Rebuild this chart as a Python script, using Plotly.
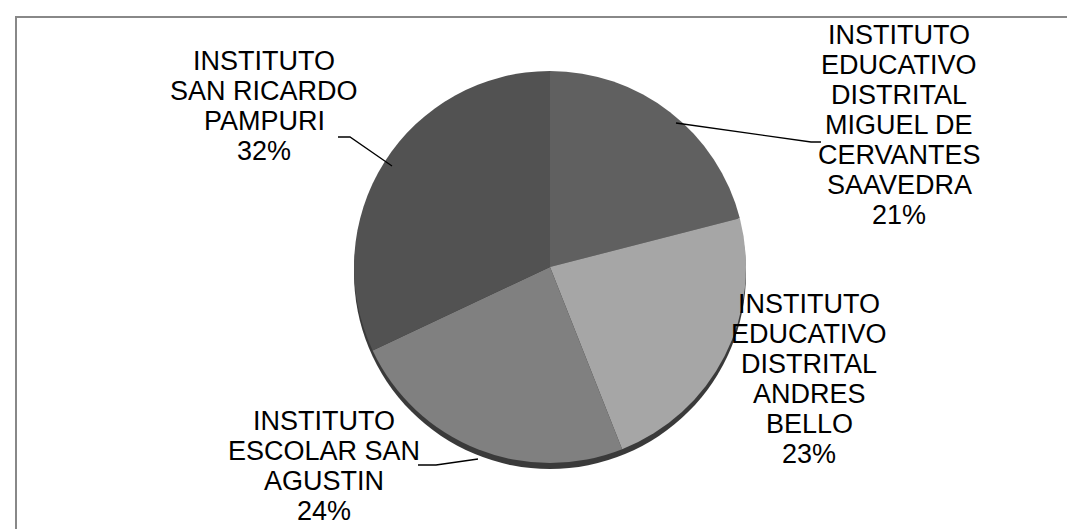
import plotly.graph_objects as go

# ---- data ----
categories = [
    "INSTITUTO EDUCATIVO DISTRITAL MIGUEL DE CERVANTES SAAVEDRA",
    "INSTITUTO EDUCATIVO DISTRITAL ANDRES BELLO",
    "INSTITUTO ESCOLAR SAN AGUSTIN",
    "INSTITUTO SAN RICARDO PAMPURI",
]
values = [21, 23, 24, 32]
label_lines = [
    ["INSTITUTO", "EDUCATIVO", "DISTRITAL", "MIGUEL DE", "CERVANTES", "SAAVEDRA"],
    ["INSTITUTO", "EDUCATIVO", "DISTRITAL", "ANDRES", "BELLO"],
    ["INSTITUTO", "ESCOLAR SAN", "AGUSTIN"],
    ["INSTITUTO", "SAN RICARDO", "PAMPURI"],
]
colors = ["#606060", "#a6a6a6", "#808080", "#525252"]

# ---- layout constants ----
W, H = 1075, 529
cx, cy, r = 542, 259, 196
shadow_dy = 6
font_size = 27
pitch = 30
text_dy = -8
label_pos = [(891, 35), (801, 304), (316, 421), (256, 61)]  # center x, first line y (px)
leaders = [
    [(668, 115), (803, 134), (813, 134)],
    None,
    [(410, 457), (428, 457), (470, 451)],
    [(330, 129), (342, 129), (384, 158)],
]

def px(x):
    return x / W

def py(y):
    return 1 - y / H

fig = go.Figure()

# shadow disc
fig.add_trace(go.Pie(
    values=[1], labels=["shadow"], marker=dict(colors=["#3a3a3a"], line=dict(width=0)),
    textinfo="none", hoverinfo="skip", showlegend=False, sort=False,
    domain=dict(x=[px(cx - r), px(cx + r)], y=[py(cy + shadow_dy + r), py(cy + shadow_dy - r)]),
))

fig.add_trace(go.Pie(
    labels=categories, values=values, sort=False, direction="clockwise", rotation=0,
    marker=dict(colors=colors, line=dict(width=0)),
    textinfo="none", showlegend=False,
    domain=dict(x=[px(cx - r), px(cx + r)], y=[py(cy + r), py(cy - r)]),
))

total = sum(values)
annotations = []
for lines, v, (lx, ly) in zip(label_lines, values, label_pos):
    all_lines = lines + [f"{round(v / total * 100)}%"]
    for i, t in enumerate(all_lines):
        annotations.append(dict(
            x=px(lx), y=py(ly + i * pitch + text_dy), xref="paper", yref="paper",
            text=t, showarrow=False, xanchor="center", yanchor="middle",
            font=dict(family="Liberation Sans, Arial, sans-serif", size=font_size, color="#000000"),
        ))

shapes = [dict(type="rect", xref="paper", yref="paper",
               x0=px(8), x1=px(1076), y0=py(540), y1=py(9),
               line=dict(color="#888888", width=2), fillcolor="rgba(0,0,0,0)", layer="below")]
for pts in leaders:
    if not pts:
        continue
    path = "M " + " L ".join(f"{px(x):.5f},{py(y):.5f}" for x, y in pts)
    shapes.append(dict(type="path", xref="paper", yref="paper", path=path,
                       line=dict(color="#000000", width=1.3)))

fig.update_layout(
    width=W, height=H, margin=dict(l=0, r=0, t=0, b=0),
    paper_bgcolor="#ffffff", plot_bgcolor="#ffffff",
    annotations=annotations, shapes=shapes,
)

fig.write_html("out.html")
